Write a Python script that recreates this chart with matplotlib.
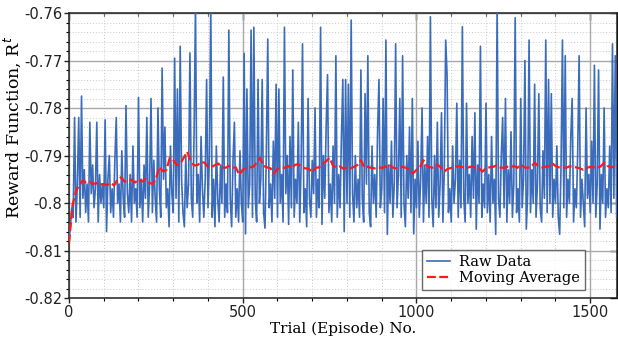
import numpy as np
import matplotlib
matplotlib.use("Agg")
import matplotlib.pyplot as plt
from matplotlib.ticker import MultipleLocator

# Raw reward values, one every 4 episodes (episode 0 .. 1576)
raw_episode_step = 4
raw_values = [
    # 0-96
    -0.808, -0.805, -0.801, -0.803, -0.782, -0.804, -0.796, -0.782, -0.803, -0.7775,
    -0.799, -0.793, -0.802, -0.796, -0.804, -0.783, -0.798, -0.792, -0.801, -0.797,
    -0.783, -0.804, -0.794, -0.800, -0.796,
    # 100-196
    -0.801, -0.7825, -0.806, -0.795, -0.790, -0.802, -0.797, -0.803, -0.791, -0.782,
    -0.800, -0.796, -0.804, -0.789, -0.799, -0.803, -0.7795, -0.798, -0.802, -0.794,
    -0.804, -0.788, -0.800, -0.797, -0.803,
    # 200-296
    -0.7778, -0.801, -0.795, -0.804, -0.792, -0.799, -0.782, -0.803, -0.796, -0.778,
    -0.802, -0.791, -0.799, -0.804, -0.780, -0.797, -0.803, -0.7716, -0.795, -0.784,
    -0.801, -0.797, -0.805, -0.788, -0.798,
    # 300-396
    -0.802, -0.7695, -0.799, -0.776, -0.804, -0.767, -0.795, -0.802, -0.805, -0.790,
    -0.801, -0.796, -0.7684, -0.799, -0.803, -0.785, -0.7585, -0.800, -0.794, -0.804,
    -0.786, -0.797, -0.803, -0.795, -0.774,
    # 400-496
    -0.801, -0.790, -0.7585, -0.803, -0.795, -0.805, -0.788, -0.799, -0.804, -0.792,
    -0.800, -0.7735, -0.803, -0.796, -0.802, -0.7636, -0.799, -0.805, -0.791, -0.783,
    -0.803, -0.797, -0.804, -0.789, -0.800,
    # 500-596
    -0.804, -0.7685, -0.8065, -0.776, -0.801, -0.796, -0.7636, -0.803, -0.763, -0.799,
    -0.804, -0.774, -0.800, -0.795, -0.774, -0.802, -0.8053, -0.789, -0.7655, -0.801,
    -0.796, -0.804, -0.787, -0.799, -0.775,
    # 600-696
    -0.803, -0.776, -0.800, -0.794, -0.804, -0.763, -0.798, -0.790, -0.8045, -0.786,
    -0.801, -0.772, -0.803, -0.795, -0.800, -0.783, -0.804, -0.792, -0.7665, -0.802,
    -0.797, -0.805, -0.778, -0.799, -0.803,
    # 700-796
    -0.791, -0.798, -0.780, -0.803, -0.795, -0.801, -0.763, -0.8045, -0.790, -0.799,
    -0.784, -0.773, -0.802, -0.796, -0.804, -0.788, -0.800, -0.769, -0.803, -0.794,
    -0.801, -0.786, -0.774, -0.806, -0.774,
    # 800-896
    -0.800, -0.775, -0.803, -0.7615, -0.798, -0.804, -0.790, -0.801, -0.795, -0.803,
    -0.772, -0.799, -0.804, -0.777, -0.796, -0.769, -0.802, -0.805, -0.788, -0.800,
    -0.794, -0.803, -0.785, -0.774, -0.801,
    # 900-996
    -0.797, -0.778, -0.802, -0.7657, -0.8066, -0.792, -0.800, -0.787, -0.803, -0.796,
    -0.7665, -0.801, -0.794, -0.778, -0.803, -0.769, -0.800, -0.805, -0.790, -0.799,
    -0.784, -0.802, -0.778, -0.8065, -0.795,
    # 1000-1096
    -0.801, -0.787, -0.803, -0.795, -0.780, -0.804, -0.792, -0.800, -0.786, -0.803,
    -0.7608, -0.799, -0.805, -0.790, -0.801, -0.783, -0.803, -0.796, -0.781, -0.804,
    -0.793, -0.7657, -0.773, -0.802, -0.797,
    # 1100-1196
    -0.804, -0.788, -0.800, -0.795, -0.779, -0.803, -0.791, -0.801, -0.7629, -0.799,
    -0.804, -0.779, -0.800, -0.794, -0.803, -0.786, -0.799, -0.781, -0.8055, -0.792,
    -0.800, -0.767, -0.803, -0.796, -0.801,
    # 1200-1296
    -0.779, -0.802, -0.794, -0.804, -0.786, -0.800, -0.795, -0.8066, -0.7585, -0.799,
    -0.803, -0.790, -0.782, -0.801, -0.778, -0.804, -0.793, -0.800, -0.785, -0.803,
    -0.796, -0.761, -0.802, -0.797, -0.804,
    # 1300-1396
    -0.778, -0.801, -0.795, -0.770, -0.8055, -0.798, -0.7657, -0.802, -0.793, -0.800,
    -0.775, -0.803, -0.796, -0.777, -0.801, -0.804, -0.789, -0.799, -0.7657, -0.802,
    -0.774, -0.800, -0.777, -0.803, -0.795,
    # 1400-1496
    -0.800, -0.788, -0.803, -0.8066, -0.792, -0.7657, -0.801, -0.769, -0.803, -0.795,
    -0.800, -0.786, -0.778, -0.804, -0.797, -0.801, -0.789, -0.769, -0.803, -0.795,
    -0.800, -0.805, -0.780, -0.799, -0.794,
    # 1500-1576
    -0.802, -0.787, -0.800, -0.771, -0.803, -0.796, -0.772, -0.8055, -0.794, -0.800,
    -0.780, -0.803, -0.797, -0.801, -0.788, -0.802, -0.7665, -0.799, -0.769, -0.803,
]

# Moving average, one value every 10 episodes (episode 0 .. 1570)
ma_episode_step = 10
ma_values = [
    -0.8085, -0.8005, -0.7975, -0.7962, -0.7952, -0.7958, -0.7956, -0.7960, -0.7958, -0.7961,
    -0.7960, -0.7962, -0.7958, -0.7963, -0.7950, -0.7946, -0.7955, -0.7952, -0.7951, -0.7957,
    -0.7950, -0.7955, -0.7949, -0.7957, -0.7960, -0.7950, -0.7924, -0.7933, -0.7931, -0.7905,
    -0.7910, -0.7920, -0.7918, -0.7905, -0.7892, -0.7910, -0.7921, -0.7920, -0.7914, -0.7915,
    -0.7924, -0.7925, -0.7920, -0.7917, -0.7925, -0.7926, -0.7922, -0.7926, -0.7925, -0.7941,
    -0.7930, -0.7926, -0.7925, -0.7924, -0.7915, -0.7905, -0.7922, -0.7925, -0.7927, -0.7938,
    -0.7928, -0.7926, -0.7926, -0.7922, -0.7927, -0.7920, -0.7918, -0.7925, -0.7927, -0.7928,
    -0.7935, -0.7926, -0.7925, -0.7918, -0.7912, -0.7905, -0.7922, -0.7925, -0.7923, -0.7928,
    -0.7925, -0.7927, -0.7924, -0.7920, -0.7910, -0.7925, -0.7924, -0.7926, -0.7927, -0.7925,
    -0.7926, -0.7924, -0.7918, -0.7925, -0.7927, -0.7926, -0.7924, -0.7926, -0.7930, -0.7938,
    -0.7930, -0.7925, -0.7910, -0.7922, -0.7925, -0.7926, -0.7919, -0.7925, -0.7934, -0.7928,
    -0.7926, -0.7925, -0.7922, -0.7924, -0.7926, -0.7925, -0.7923, -0.7926, -0.7927, -0.7934,
    -0.7926, -0.7925, -0.7924, -0.7921, -0.7925, -0.7926, -0.7924, -0.7925, -0.7922, -0.7926,
    -0.7919, -0.7925, -0.7926, -0.7924, -0.7915, -0.7922, -0.7925, -0.7924, -0.7923, -0.7916,
    -0.7922, -0.7925, -0.7924, -0.7926, -0.7923, -0.7924, -0.7925, -0.7927, -0.7930, -0.7926,
    -0.7924, -0.7925, -0.7926, -0.7923, -0.7915, -0.7922, -0.7925, -0.7924,
]

x_label = "Trial (Episode) No."
y_label = "Reward Function, R$^{t}$"
legend_labels = ["Raw Data", "Moving Average"]
x_ticks = [0, 500, 1000, 1500]
y_ticks = [-0.82, -0.81, -0.80, -0.79, -0.78, -0.77, -0.76]
y_tick_labels = ["-0.82", "-0.81", "-0.8", "-0.79", "-0.78", "-0.77", "-0.76"]

raw_x = np.arange(len(raw_values)) * raw_episode_step
ma_x = np.arange(len(ma_values)) * ma_episode_step

fig = plt.figure(figsize=(6.18, 3.46), dpi=100)
ax = fig.add_axes([69 / 618, 1 - 298 / 346, (617 - 69) / 618, (298 - 13) / 346])

ax.plot(raw_x, raw_values, color="#3b6cbb", lw=1.2, label=legend_labels[0], zorder=3)
ax.plot(ma_x, ma_values, color="#ff1a1a", lw=1.6, ls=(0, (4, 1.5)), label=legend_labels[1], zorder=4)

ax.set_xlim(0, 1577)
ax.set_ylim(-0.82, -0.76)
ax.set_xticks(x_ticks)
ax.set_yticks(y_ticks)
ax.set_yticklabels(y_tick_labels)
ax.xaxis.set_minor_locator(MultipleLocator(100))
ax.yaxis.set_minor_locator(MultipleLocator(0.002))

ax.grid(which="major", color="#a8a8a8", lw=1.0, ls="-", zorder=0)
ax.grid(which="minor", color="#c8c8c8", lw=0.7, ls=(0, (1, 2)), zorder=0)
ax.set_axisbelow(True)

for s in ax.spines.values():
    s.set_color("#222222")
    s.set_linewidth(1.1)

ax.tick_params(which="major", direction="out", length=3.5, width=1, labelsize=10.5, colors="#222222",
               top=False, right=False, pad=1.5)
ax.tick_params(which="minor", direction="out", length=2.5, width=0.8, top=False, right=False)

sec_x = ax.secondary_xaxis("top")
sec_x.set_xticks(x_ticks)
sec_x.xaxis.set_minor_locator(MultipleLocator(100))
sec_x.tick_params(which="major", direction="in", length=5, width=1, labeltop=False)
sec_x.tick_params(which="minor", direction="in", length=2.5, width=0.8)
sec_x.set_xticklabels([])
sec_y = ax.secondary_yaxis("right")
sec_y.set_yticks(y_ticks)
sec_y.tick_params(which="major", direction="in", length=5, width=1, labelright=False)
sec_y.set_yticklabels([])

ax.set_xlabel(x_label, family="DejaVu Serif", fontsize=11, labelpad=1)
ax.set_ylabel(y_label, family="DejaVu Serif", fontsize=12.5, va="center")
ax.yaxis.set_label_coords(-0.103, 0.6)

leg = ax.legend(loc="lower right", bbox_to_anchor=(0.942, 0.028), prop={"family": "DejaVu Serif", "size": 10.5},
                frameon=True, fancybox=False, borderpad=0.35, handlelength=1.6, handletextpad=0.6,
                labelspacing=0.15, borderaxespad=0)
leg.get_frame().set_edgecolor("#444444")
leg.get_frame().set_linewidth(1.0)

fig.savefig("out.png", dpi=100)
